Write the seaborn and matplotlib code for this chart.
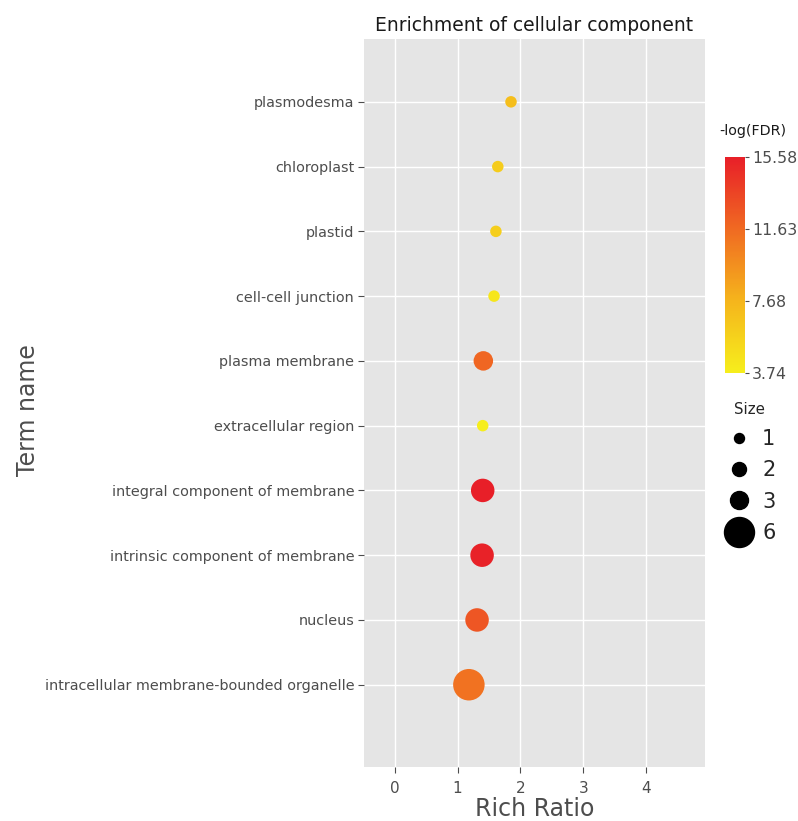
import numpy as np
import pandas as pd
import matplotlib
matplotlib.use("Agg")
import matplotlib.pyplot as plt
from matplotlib.colors import LinearSegmentedColormap, Normalize
from matplotlib.cm import ScalarMappable
from matplotlib.lines import Line2D
import seaborn as sns

# GO cellular component enrichment (listed bottom to top)
terms = [
    "intracellular membrane-bounded organelle",
    "nucleus",
    "intrinsic component of membrane",
    "integral component of membrane",
    "extracellular region",
    "plasma membrane",
    "cell-cell junction",
    "plastid",
    "chloroplast",
    "plasmodesma",
]
rich_ratio = [1.18, 1.31, 1.39, 1.40, 1.40, 1.41, 1.58, 1.61, 1.64, 1.85]
neg_log_fdr = [11.2, 12.7, 15.4, 15.58, 3.74, 11.8, 4.3, 6.0, 6.1, 7.1]
gene_count = [6, 4, 4, 4, 1, 3, 1, 1, 1, 1]

cbar_ticks = [3.74, 7.68, 11.63, 15.58]
size_legend = [1, 2, 3, 6]

df = pd.DataFrame({"term": terms, "rich": rich_ratio,
                   "fdr": neg_log_fdr, "count": gene_count})

sns.set_theme(style="darkgrid")
plt.rcParams["font.family"] = ["DejaVu Sans"]

cmap = LinearSegmentedColormap.from_list(
    "yr", ["#f6ee1c", "#f5b51c", "#f06a22", "#e81f28"])
lo, hi = min(cbar_ticks), max(cbar_ticks)


def marker_area(n, extra=0.0):
    d_px = 6 + 4 * n + extra
    return (d_px * 0.72) ** 2


fig = plt.figure(figsize=(7.98, 8.21), dpi=100)
ax = fig.add_axes([0.456, 0.0658, 0.427, 0.8867])
ax.set_facecolor("#e5e5e5")

sizes = {n: marker_area(n, 1.5) for n in sorted(set(gene_count))}
sns.scatterplot(data=df, x="rich", y="term", hue="fdr", size="count",
                palette=cmap, hue_norm=(lo, hi), sizes=sizes,
                linewidth=0, alpha=1, legend=False, ax=ax, zorder=3)

ax.set_xlim(-0.49, 4.93)
ax.set_ylim(-1.27, 9.97)
ax.set_xticks([0, 1, 2, 3, 4])
ax.grid(True, color="white", linewidth=1.0)
for s in ax.spines.values():
    s.set_visible(False)
ax.tick_params(axis="y", labelsize=10.4, labelcolor="#4d4d4d", length=4,
               color="#4d4d4d", width=0.8, left=True, pad=3)
ax.tick_params(axis="x", labelsize=11, labelcolor="#4d4d4d", length=4,
               color="#4d4d4d", width=0.8, bottom=True, pad=6)
ax.set_xlabel("Rich Ratio", fontsize=17, color="#4d4d4d", labelpad=1)
ax.set_ylabel("Term name", fontsize=17, color="#4d4d4d")
ax.yaxis.set_label_coords(-0.985, 0.49)
ax.yaxis.label.set_verticalalignment("center")
ax.set_title("Enrichment of cellular component", fontsize=13.5,
             color="#1a1a1a", pad=6)

# colour bar for -log(FDR)
cax = fig.add_axes([0.9085, 0.5457, 0.025, 0.263])
sm = ScalarMappable(norm=Normalize(lo, hi), cmap=cmap)
cb = fig.colorbar(sm, cax=cax, ticks=cbar_ticks)
cb.outline.set_visible(False)
cb.ax.set_yticklabels([f"{t:.2f}" for t in cbar_ticks])
cb.ax.tick_params(labelsize=11.3, labelcolor="#4d4d4d", length=3,
                  color="#4d4d4d", width=0.8, pad=2)
fig.text(0.943, 0.841, "-log(FDR)", fontsize=10.3, ha="center",
         va="center", color="#1a1a1a")

# size legend
handles = [Line2D([], [], linestyle="none", marker="o", color="black",
                  markersize=np.sqrt(marker_area(n))) for n in size_legend]
leg = fig.legend(handles, [str(n) for n in size_legend], title="Size",
                 loc="upper left", bbox_to_anchor=(0.895, 0.52),
                 frameon=False, fontsize=15, title_fontsize=10.8,
                 labelspacing=0.55, handletextpad=0.3, borderaxespad=0,
                 handlelength=1.6)

fig.savefig("out.png", dpi=100)
